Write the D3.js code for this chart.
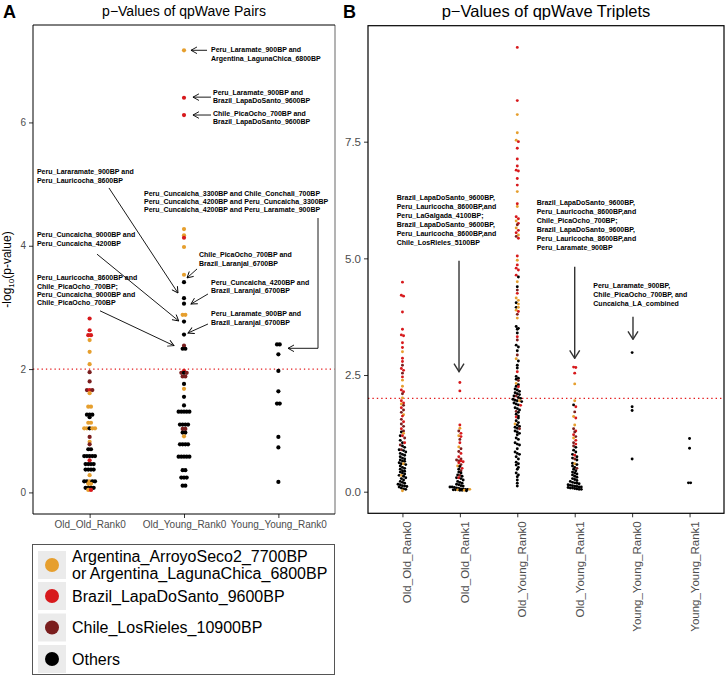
<!DOCTYPE html>
<html>
<head>
<meta charset="utf-8">
<script src="https://cdn.jsdelivr.net/npm/d3@7/dist/d3.min.js"></script>
<style>
  body { margin: 0; background: #fff; }
  svg { font-family: "Liberation Sans", Arial, Helvetica, sans-serif; }
</style>
</head>
<body>
<svg id="chart" width="726" height="677"></svg>
<script>
// groups: 0 Argentina, 1 Brazil, 2 Chile, 3 Others
const groupColors = ["#E69F2E", "#D7191C", "#7A1E1E", "#000000"];
const legendLabels = [
  ["Argentina_ArroyoSeco2_7700BP", "or Argentina_LagunaChica_6800BP"],
  ["Brazil_LapaDoSanto_9600BP"],
  ["Chile_LosRieles_10900BP"],
  ["Others"]
];

// ---- panel A: pairs, [value, group]
const pairCats = ["Old_Old_Rank0", "Old_Young_Rank0", "Young_Young_Rank0"];
const pairsOldOld = [
  [2.82,1],[2.63,1],[2.55,1],[2.55,1],[2.47,0],[2.28,0],[2.08,0],[1.95,2],[1.80,2],
  [1.66,2],[1.66,1],[1.66,2],[1.61,0],[1.39,0],[1.39,0],[1.26,3],[1.26,3],[1.26,3],[1.22,3],
  [1.13,0],[1.13,0],[1.04,0],[1.04,0],[1.04,3],[1.04,0],[1.04,0],[0.90,2],[0.82,0],[0.78,2],
  [0.70,3],[0.70,3],[0.59,3],[0.59,3],[0.59,3],[0.59,3],[0.59,3],[0.52,1],
  [0.46,3],[0.46,3],[0.46,3],[0.46,3],[0.37,3],[0.37,3],[0.37,3],[0.37,3],[0.28,0],
  [0.18,3],[0.18,3],[0.18,0],[0.18,3],[0.18,3],[0.14,0],[0.14,0],
  [0.075,3],[0.075,3],[0.075,3],[0.075,3],[0.04,0],[0.04,1]
];
const pairsOldYoung = [
  [7.17,0],[6.40,1],[6.12,1],[4.27,0],[4.17,0],[4.13,1],[3.98,0],[3.53,0],[3.41,3],
  [3.15,3],[3.06,3],[2.88,0],[2.88,0],[2.77,3],[2.56,3],[2.38,2],[2.33,3],[2.33,3],
  [1.97,1],[1.94,2],[1.94,3],[1.94,2],[1.88,2],[1.88,2],[1.76,3],[1.68,0],[1.55,3],[1.41,3],
  [1.31,3],[1.31,3],[1.31,3],[1.31,3],[1.31,3],[1.10,3],[1.10,3],[1.10,3],[1.10,3],
  [1.03,2],[1.03,2],[0.97,3],[0.97,3],[0.91,0],[0.78,3],[0.78,3],[0.78,3],[0.78,3],
  [0.58,3],[0.58,3],[0.58,3],[0.58,3],[0.58,3],[0.36,3],[0.36,3],
  [0.24,3],[0.24,3],[0.24,3],[0.11,3],[0.11,3]
];
const pairsYoungYoung = [
  [2.40,3],[2.40,3],[2.24,3],[1.97,3],[1.64,3],[1.44,3],[1.44,3],[0.90,3],[0.73,3],[0.17,3]
];

// ---- panel B: triplets, values by group
const tripletCats = ["Old_Old_Rank0", "Old_Old_Rank1", "Old_Young_Rank0", "Old_Young_Rank1", "Young_Young_Rank0", "Young_Young_Rank1"];
const tripOldOld0 = {
  arg: [3.00, 2.39, 2.26, 2.01, 1.88, 1.65, 1.25, 0.60, 0.35, 0.02],
  bra: [4.49, 4.21, 4.19, 3.85, 3.48, 3.36, 3.34, 3.19, 3.09, 2.86, 2.79, 2.64, 2.60, 2.46, 2.18, 2.14, 1.95, 1.90, 1.80, 1.62, 1.50, 1.35, 1.20, 1.05],
  chi: [2.71, 2.54, 2.10, 1.85, 1.75, 1.70, 1.55, 1.45, 1.40, 1.30, 1.15, 1.00, 0.90],
  oth: [1.28, 1.20, 1.10, 1.05, 0.98, 0.95, 0.90, 0.88, 0.85, 0.82, 0.80, 0.78, 0.75, 0.72, 0.70, 0.68, 0.66, 0.65, 0.62, 0.60, 0.58, 0.55, 0.52, 0.50, 0.48, 0.45, 0.44, 0.42, 0.40, 0.38, 0.35, 0.33, 0.30, 0.28, 0.25, 0.22, 0.20, 0.18, 0.16, 0.15, 0.13, 0.12, 0.11, 0.10, 0.08, 0.06, 0.05]
};
const tripOldOld1 = {
  arg: [1.36, 1.20, 0.96, 0.55, 0.05, 0.04, 0.03],
  bra: [2.34, 2.16, 1.43, 1.25, 1.18, 1.05, 0.82, 0.75, 0.66, 0.64, 0.62, 0.50, 0.30],
  chi: [1.30, 1.12, 0.92, 0.86, 0.70, 0.68, 0.66, 0.58, 0.45, 0.35],
  oth: [0.54, 0.48, 0.42, 0.40, 0.36, 0.33, 0.30, 0.28, 0.25, 0.22, 0.20, 0.18, 0.16, 0.15, 0.13, 0.12, 0.10, 0.10, 0.09, 0.08, 0.07, 0.06, 0.06, 0.05, 0.05, 0.04, 0.04, 0.03, 0.03, 0.02]
};
const tripOldYoung0 = {
  arg: [8.08, 7.69, 7.53, 6.43, 6.11, 5.80, 5.65, 5.50, 4.96, 4.50, 4.15, 4.10, 4.02, 3.95, 3.89, 3.72, 2.85, 2.32, 1.95, 1.45],
  bra: [9.52, 8.38, 7.50, 7.36, 7.13, 6.98, 6.89, 6.87, 6.71, 6.57, 6.17, 5.89, 5.85, 5.75, 5.60, 5.55, 5.43, 5.05, 4.86, 4.79, 4.75, 4.64, 4.25, 3.86, 3.32, 2.57, 2.25, 1.85, 1.60],
  chi: [5.72, 5.47, 4.32, 3.80, 3.25, 2.93, 2.38, 2.05, 1.72, 1.35],
  oth: [4.60, 4.39, 4.05, 3.95, 3.54, 3.50, 3.48, 3.40, 3.14, 3.10, 3.02, 2.80, 2.71, 2.65, 2.47, 2.43, 2.41, 2.29, 2.26, 2.20, 2.18, 2.15, 2.12, 2.10, 2.08, 2.05, 2.02, 2.00, 1.98, 1.96, 1.95, 1.93, 1.90, 1.88, 1.86, 1.80, 1.78, 1.75, 1.70, 1.66, 1.62, 1.58, 1.52, 1.48, 1.43, 1.40, 1.38, 1.36, 1.30, 1.28, 1.25, 1.22, 1.15, 1.12, 1.05, 1.02, 1.00, 0.92, 0.85, 0.82, 0.80, 0.75, 0.70, 0.63, 0.60, 0.57, 0.52, 0.48, 0.40, 0.36, 0.32, 0.25, 0.18, 0.12]
};
const tripOldYoung1 = {
  arg: [2.31, 1.95, 1.61, 1.43, 1.15, 0.60],
  bra: [2.67, 2.66, 2.54, 1.82, 1.58, 1.30, 1.22, 1.10, 1.02, 0.78],
  chi: [1.71, 1.35, 1.28, 1.18, 1.05, 0.98, 0.70, 0.50],
  oth: [1.86, 0.95, 0.89, 0.85, 0.80, 0.75, 0.72, 0.68, 0.61, 0.58, 0.55, 0.52, 0.48, 0.45, 0.42, 0.40, 0.38, 0.36, 0.33, 0.31, 0.28, 0.26, 0.24, 0.22, 0.20, 0.19, 0.18, 0.17, 0.15, 0.14, 0.13, 0.12, 0.11, 0.10, 0.10, 0.09, 0.08, 0.08, 0.07, 0.06, 0.05, 0.05]
};
const tripYoungYoung0 = { arg: [], bra: [], chi: [], oth: [2.98, 1.82, 1.74, 0.70] };
const tripYoungYoung1 = { arg: [], bra: [], chi: [], oth: [1.14, 0.93, 0.19, 0.19] };

// annotations: x in category units, y in data units
const pairNotes = [
  { lines: ["Peru_Laramate_900BP and", "Argentina_LagunaChica_6800BP"], x: 2.286, y: 7.175, path: [[2.244, 7.17], [2.074, 7.17]] },
  { lines: ["Peru_Laramate_900BP and", "Brazil_LapaDoSanto_9600BP"], x: 2.307, y: 6.49, path: [[2.286, 6.41], [2.095, 6.41]] },
  { lines: ["Chile_PicaOcho_700BP and", "Brazil_LapaDoSanto_9600BP"], x: 2.307, y: 6.14, path: [[2.286, 6.12], [2.095, 6.12]] },
  { lines: ["Peru_Lararamate_900BP and", "Peru_Lauricocha_8600BP"], x: 0.442, y: 5.196, path: [[1.205, 4.937], [1.936, 3.234]] },
  { lines: ["Peru_Cuncaicha_9000BP and", "Peru_Cuncaicha_4200BP"], x: 0.442, y: 4.175, path: [[1.078, 3.864], [1.944, 2.781]] },
  { lines: ["Peru_Lauricocha_8600BP and", "Chile_PicaOcho_700BP;", "Peru_Cuncaicha_9000BP and", "Chile_PicaOcho_700BP"], x: 0.442, y: 3.477, path: [[1.11, 2.945], [1.894, 2.379]] },
  { lines: ["Peru_Cuncaicha_3300BP and Chile_Conchali_700BP", "Peru_Cuncaicha_4200BP and Peru_Cuncaicha_3300BP", "Peru_Cuncaicha_4200BP and Peru_Laramate_900BP"], x: 1.576, y: 4.851, path: [[3.42, 4.45], [3.42, 2.337], [3.102, 2.337]] },
  { lines: ["Chile_PicaOcho_700BP and", "Brazil_Laranjal_6700BP"], x: 2.159, y: 3.85, path: [[2.138, 3.624], [2.032, 3.478]] },
  { lines: ["Peru_Cuncaicha_4200BP and", "Brazil_Laranjal_6700BP"], x: 2.286, y: 3.401, path: [[2.254, 3.218], [2.074, 3.055]] },
  { lines: ["Peru_Laramate_900BP and", "Brazil_Laranjal_6700BP"], x: 2.286, y: 2.893, path: [[2.254, 2.731], [2.042, 2.585]] }
];
const tripletNotes = [
  { lines: ["Brazil_LapaDoSanto_9600BP,", "Peru_Lauricocha_8600BP,and", "Peru_LaGalgada_4100BP;", "Brazil_LapaDoSanto_9600BP,", "Peru_Lauricocha_8600BP,and", "Chile_LosRieles_5100BP"], x: 0.9, y: 6.308, path: [[1.985, 4.95], [1.985, 2.571]] },
  { lines: ["Brazil_LapaDoSanto_9600BP,", "Peru_Lauricocha_8600BP,and", "Chile_PicaOcho_700BP;", "Brazil_LapaDoSanto_9600BP,", "Peru_Lauricocha_8600BP,and", "Peru_Laramate_900BP"], x: 3.338, y: 6.192, path: [[4.0, 4.821], [4.0, 2.858]] },
  { lines: ["Peru_Laramate_900BP,", "Chile_PicaOcho_700BP, and", "Cuncaicha_LA_combined"], x: 4.324, y: 4.408, path: [[5.015, 3.75], [5.015, 3.266]] }
];

const svg = d3.select("#chart");
const axisGray = "#4d4d4d";

const defs = svg.append("defs");
function marker(id, len, half, color, width) {
  defs.append("marker")
    .attr("id", id)
    .attr("markerUnits", "userSpaceOnUse")
    .attr("viewBox", `${-len - 1} ${-half - 1} ${len + 2} ${2 * half + 2}`)
    .attr("markerWidth", len + 2)
    .attr("markerHeight", 2 * half + 2)
    .attr("refX", 0).attr("refY", 0)
    .attr("orient", "auto")
    .append("path")
    .attr("d", `M${-len},${-half}L0,0L${-len},${half}`)
    .attr("fill", "none")
    .attr("stroke", color)
    .attr("stroke-width", width);
}
marker("arrA", 6, 3.3, "#000", 0.9);
marker("arrB", 8, 5, "#333", 1.4);

// lay points of one column in horizontal rows
function layout(points, y, tol, step) {
  const sorted = points.slice().sort((a, b) => b.v - a.v);
  const out = [];
  let row = [];
  const flush = () => {
    row.forEach((p, i) => out.push({ ...p, dx: (i - (row.length - 1) / 2) * step }));
    row = [];
  };
  sorted.forEach(p => {
    if (row.length && Math.abs(y(row[0].v) - y(p.v)) > tol) flush();
    row.push(p);
  });
  flush();
  return out;
}

// ================= Panel A =================
const A = { left: 33, right: 335, top: 25, bottom: 514 };
const xA = d3.scaleLinear().domain([0.4, 3.6]).range([A.left, A.right]);
const yA = d3.scaleLinear().domain([-0.35, 7.58]).range([A.bottom, A.top]);
const gA = svg.append("g");

gA.append("line").attr("x1", xA(0.4)).attr("x2", xA(3.6)).attr("y1", yA(2)).attr("y2", yA(2))
  .attr("stroke", "#E41A1C").attr("stroke-width", 1.3).attr("stroke-dasharray", "1.3,3");

const pairCols = [pairsOldOld, pairsOldYoung, pairsYoungYoung];
pairCols.forEach((col, ci) => {
  const pts = layout(col.map(d => ({ v: d[0], g: d[1] })), yA, 1.5, 2.7);
  gA.append("g").selectAll("circle").data(pts).join("circle")
    .attr("cx", d => xA(ci + 1) + d.dx)
    .attr("cy", d => yA(d.v))
    .attr("r", 2.1)
    .attr("fill", d => groupColors[d.g]);
});

// axes A
const axYA = gA.append("g").attr("transform", `translate(${A.left},0)`)
  .call(d3.axisLeft(yA).tickValues([0, 2, 4, 6]).tickSize(4).tickPadding(3));
const axXA = gA.append("g").attr("transform", `translate(0,${A.bottom})`)
  .call(d3.axisBottom(xA).tickValues([1, 2, 3]).tickFormat(i => pairCats[i - 1]).tickSize(4).tickPadding(3));
[axYA, axXA].forEach(ax => {
  ax.select(".domain").remove();
  ax.selectAll(".tick line").attr("stroke", "#333");
  ax.selectAll("text").attr("fill", axisGray).attr("font-size", 10);
});

// border
gA.append("line").attr("x1", A.right).attr("x2", A.right).attr("y1", A.top).attr("y2", A.bottom)
  .attr("stroke", "#9a9a9a").attr("stroke-width", 1.5);
gA.append("path").attr("d", `M${A.right},${A.top}H${A.left}V${A.bottom}H${A.right}`)
  .attr("fill", "none").attr("stroke", "#000").attr("stroke-width", 1);

// annotations A
pairNotes.forEach(n => {
  const t = gA.append("text").attr("font-size", 7).attr("font-weight", "bold").attr("fill", "#000");
  n.lines.forEach((l, i) => t.append("tspan")
    .attr("x", xA(n.x)).attr("y", yA(n.y) + i * 8.2).attr("dy", "0.35em").text(l));
  gA.append("path")
    .attr("d", d3.line().x(p => xA(p[0])).y(p => yA(p[1]))(n.path))
    .attr("fill", "none").attr("stroke", "#000").attr("stroke-width", 0.9)
    .attr("marker-end", "url(#arrA)");
});

// title & axis label A
svg.append("text").attr("x", (A.left + A.right) / 2).attr("y", 16).attr("text-anchor", "middle")
  .attr("font-size", 14).text("p\u2212Values of qpWave Pairs");
svg.append("text").attr("x", 3).attr("y", 18).attr("font-size", 18).attr("font-weight", "bold").text("A");
const yt = svg.append("text")
  .attr("transform", `translate(10.5,${(A.top + A.bottom) / 2}) rotate(-90)`)
  .attr("text-anchor", "middle").attr("font-size", 12).attr("fill", "#000");
yt.append("tspan").text("-log");
yt.append("tspan").attr("font-size", 8).attr("dy", 3).text("10");
yt.append("tspan").attr("dy", -3).text("(p-value)");

// legend
const legend = svg.append("g");
legend.append("rect").attr("x", 32.5).attr("y", 544.5).attr("width", 302).attr("height", 130)
  .attr("fill", "#fff").attr("stroke", "#555").attr("stroke-width", 1);
const keyTops = [551, 582, 613.5, 645];
legendLabels.forEach((lab, i) => {
  const cy = keyTops[i] + 14;
  legend.append("rect").attr("x", 38).attr("y", keyTops[i]).attr("width", 28).attr("height", 28).attr("fill", "#ebebeb");
  legend.append("circle").attr("cx", 52).attr("cy", cy).attr("r", 7).attr("fill", groupColors[i]);
  const t = legend.append("text").attr("font-size", 16).attr("fill", "#000");
  lab.forEach((l, j) => t.append("tspan").attr("x", 72)
    .attr("y", cy + 5.7 + (j - (lab.length - 1) / 2) * 17.3).text(l));
});

// ================= Panel B =================
const B = { left: 368, right: 724, top: 25.7, bottom: 513.3 };
const xB = d3.scaleLinear().domain([0.4, 6.6]).range([B.left, B.right]);
const yB = d3.scaleLinear().domain([-0.463, 9.985]).range([B.bottom, B.top]);
const gB = svg.append("g");

gB.append("line").attr("x1", xB(0.4)).attr("x2", xB(6.6)).attr("y1", yB(2)).attr("y2", yB(2))
  .attr("stroke", "#E41A1C").attr("stroke-width", 1.4).attr("stroke-dasharray", "1.4,3");

const tripCols = [tripOldOld0, tripOldOld1, tripOldYoung0, tripOldYoung1, tripYoungYoung0, tripYoungYoung1];
tripCols.forEach((col, ci) => {
  const raw = [];
  ["oth", "chi", "arg", "bra"].forEach(k => {
    const g = { arg: 0, bra: 1, chi: 2, oth: 3 }[k];
    col[k].forEach(v => raw.push({ v, g }));
  });
  const pts = layout(raw, yB, 2.4, 2.2);
  gB.append("g").selectAll("circle").data(pts).join("circle")
    .attr("cx", d => xB(ci + 1) + d.dx)
    .attr("cy", d => yB(d.v))
    .attr("r", 1.45)
    .attr("fill", d => groupColors[d.g]);
});

const axYB = gB.append("g").attr("transform", `translate(${B.left},0)`)
  .call(d3.axisLeft(yB).tickValues([0, 2.5, 5, 7.5]).tickFormat(d3.format(".1f")).tickSize(4).tickPadding(3));
const axXB = gB.append("g").attr("transform", `translate(0,${B.bottom})`)
  .call(d3.axisBottom(xB).tickValues([1, 2, 3, 4, 5, 6]).tickFormat(i => tripletCats[i - 1]).tickSize(4));
[axYB, axXB].forEach(ax => {
  ax.select(".domain").remove();
  ax.selectAll(".tick line").attr("stroke", "#333");
  ax.selectAll("text").attr("fill", axisGray).attr("font-size", 11.5);
});
axXB.selectAll("text")
  .attr("transform", "rotate(-90)")
  .attr("x", -8).attr("y", 8.5).attr("dy", 0)
  .attr("text-anchor", "end");

gB.append("rect").attr("x", B.left).attr("y", B.top).attr("width", B.right - B.left).attr("height", B.bottom - B.top)
  .attr("fill", "none").attr("stroke", "#000").attr("stroke-width", 1.2);

tripletNotes.forEach(n => {
  const t = gB.append("text").attr("font-size", 7).attr("font-weight", "bold").attr("fill", "#000");
  n.lines.forEach((l, i) => t.append("tspan")
    .attr("x", xB(n.x)).attr("y", yB(n.y) + i * 9).attr("dy", "0.35em").text(l));
  gB.append("path")
    .attr("d", d3.line().x(p => xB(p[0])).y(p => yB(p[1]))(n.path))
    .attr("fill", "none").attr("stroke", "#333").attr("stroke-width", 1.4)
    .attr("marker-end", "url(#arrB)");
});

svg.append("text").attr("x", (B.left + B.right) / 2).attr("y", 16.5).attr("text-anchor", "middle")
  .attr("font-size", 16.5).text("p\u2212Values of qpWave Triplets");
svg.append("text").attr("x", 343).attr("y", 18).attr("font-size", 18).attr("font-weight", "bold").text("B");
</script>
</body>
</html>
